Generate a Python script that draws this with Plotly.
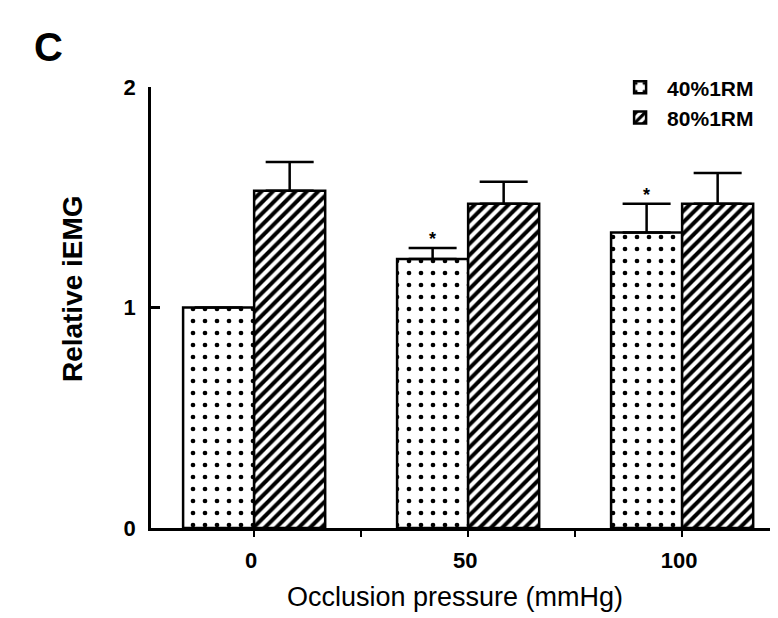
import plotly.graph_objects as go

# ---- data ----
pressure = [0, 50, 100]                 # occlusion pressure (mmHg)
tick_vals = [0, 25, 50, 75, 100]
tick_text = ["0", "", "50", "", "100"]
iemg_40 = [1.00, 1.22, 1.34]           # relative iEMG, 40%1RM
err_40 = [0.00, 0.05, 0.13]
iemg_80 = [1.53, 1.47, 1.47]           # relative iEMG, 80%1RM
err_80 = [0.13, 0.10, 0.14]
sig_40 = [False, True, True]           # * markers above 40%1RM bars

# page body has an 8px default margin, so the figure is 8px smaller
W, H = 770, 610
ML, MR, MT, MB = 143, 0, 79, 90

fig = go.Figure()
fig.add_trace(go.Bar(
    x=pressure, y=iemg_40, name="40%1RM",
    marker=dict(color="white",
                line=dict(color="black", width=2.5),
                pattern=dict(shape=".", fgcolor="black", bgcolor="white",
                             fgopacity=1, size=12, solidity=0.12)),
    error_y=dict(type="data", array=err_40, arrayminus=[0]*3, symmetric=False,
                 color="black", thickness=2.5, width=24),
))
fig.add_trace(go.Bar(
    x=pressure, y=iemg_80, name="80%1RM",
    marker=dict(color="white",
                line=dict(color="black", width=2.5),
                pattern=dict(shape="/", fgcolor="black", bgcolor="white",
                             fgopacity=1, size=8, solidity=0.5)),
    error_y=dict(type="data", array=err_80, arrayminus=[0]*3, symmetric=False,
                 color="black", thickness=2.5, width=24),
))

annotations = []
for xv, yv, ev, s in zip(pressure, iemg_40, err_40, sig_40):
    if s:
        annotations.append(dict(x=xv, y=yv + ev, xref="x", yref="y",
                                text="*", showarrow=False, xshift=-35.5,
                                yshift=-3, yanchor="bottom",
                                font=dict(size=18, color="black",
                                          family="Liberation Sans", weight="bold")))

annotations += [
    dict(text="C", x=-0.163, y=1.091, xref="paper", yref="paper",
         showarrow=False, xanchor="center", yanchor="middle",
         font=dict(size=40, color="black", family="Liberation Sans", weight="bold")),
    dict(text="Relative iEMG", x=-0.126, y=0.544, xref="paper", yref="paper",
         showarrow=False, textangle=-90, xanchor="center", yanchor="middle",
         font=dict(size=28, color="black", family="Liberation Sans", weight="bold")),
    dict(text="Occlusion pressure (mmHg)", x=0.485, y=-0.156, xref="paper",
         yref="paper", showarrow=False, xanchor="center", yanchor="middle",
         font=dict(size=27, color="black", family="Liberation Sans")),
]

fig.update_layout(
    width=W, height=H,
    margin=dict(l=ML, r=MR, t=MT, b=MB, autoexpand=False),
    paper_bgcolor="white", plot_bgcolor="white",
    barmode="group", bargap=0.336, bargroupgap=0,
    showlegend=True,
    legend=dict(x=0.737, y=1.045, xanchor="left", yanchor="top",
                itemwidth=44,
                bgcolor="rgba(0,0,0,0)", traceorder="normal",
                font=dict(size=21, color="black", family="Liberation Sans",
                          weight="bold")),
    annotations=annotations,
    xaxis=dict(range=[-24.1, 122.4], tickmode="array", tickvals=tick_vals,
               ticktext=tick_text, ticks="outside", ticklen=6, tickwidth=2,
               tickcolor="black", showline=True, linecolor="black",
               linewidth=2.5, showgrid=False, zeroline=False,
               automargin=False,
               ticklabelstandoff=5, ticklabelshift=-3,
               tickfont=dict(size=22, color="black", family="Liberation Sans",
                             weight="bold")),
    yaxis=dict(range=[0, 2], tickvals=[0, 1, 2], ticks="inside", ticklen=9,
               tickwidth=2.5, tickcolor="black", showline=True,
               linecolor="black", linewidth=2.5, showgrid=False,
               zeroline=False, ticklabelstandoff=8, automargin=False,
               tickfont=dict(size=22, color="black", family="Liberation Sans",
                             weight="bold")),
)

fig.write_html("out.html")
